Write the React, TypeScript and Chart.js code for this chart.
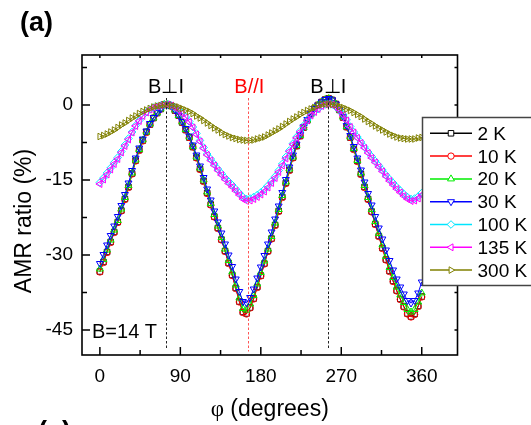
import React, { useEffect, useRef } from 'react';
import { Chart, registerables } from 'chart.js';
import { drawPoint } from 'chart.js/helpers';

Chart.register(...registerables);

// ---------- data ----------
const PHI = [
  0, 4, 8, 12, 16, 20, 24, 28, 32, 36,
  40, 44, 48, 52, 56, 60, 64, 68, 72, 76,
  80, 84, 88, 92, 96, 100, 104, 108, 112, 116,
  120, 124, 128, 132, 136, 140, 144, 148, 152, 156,
  160, 164, 168, 172, 176, 180, 184, 188, 192, 196,
  200, 204, 208, 212, 216, 220, 224, 228, 232, 236,
  240, 244, 248, 252, 256, 260, 264, 268, 272, 276,
  280, 284, 288, 292, 296, 300, 304, 308, 312, 316,
  320, 324, 328, 332, 336, 340, 344, 348, 352, 356,
  360,
];

const AMR_2K = [
  -33.3, -31.4, -29.4, -27.4, -25.4, -23.4, -21.1, -18.8, -16.4, -13.7,
  -11.1, -9.0, -7.1, -5.4, -3.9, -2.6, -1.6, -0.8, 0.1, 0.1,
  -0.2, -1.1, -2.1, -3.5, -5.0, -6.5, -8.4, -10.5, -12.8, -15.2,
  -17.6, -19.9, -22.3, -24.6, -26.9, -29.2, -31.6, -34.0, -36.6, -39.3,
  -41.4, -41.7, -40.5, -38.7, -36.4, -34.1, -31.7, -29.2, -26.7, -24.0,
  -21.2, -18.4, -15.6, -13.0, -10.5, -8.2, -6.2, -4.5, -3.1, -1.8,
  -0.7, 0.0, 0.6, 1.1, 1.3, 1.0, 0.2, -1.0, -2.5, -4.4,
  -6.5, -8.8, -11.2, -13.8, -16.4, -18.8, -21.3, -23.8, -26.2, -28.6,
  -30.9, -33.2, -35.2, -37.1, -38.8, -40.3, -41.7, -42.3, -41.8, -40.2,
  -38.3,
];

const AMR_10K = [
  -33.4, -31.5, -29.5, -27.5, -25.5, -23.5, -21.2, -18.9, -16.5, -13.8,
  -11.2, -9.1, -7.2, -5.5, -3.9, -2.6, -1.6, -0.8, 0.1, 0.1,
  -0.2, -1.1, -2.1, -3.5, -5.0, -6.5, -8.4, -10.6, -12.9, -15.3,
  -17.7, -20.0, -22.4, -24.7, -27.0, -29.3, -31.7, -34.1, -36.7, -39.4,
  -41.5, -41.8, -40.6, -38.8, -36.5, -34.2, -31.8, -29.3, -26.8, -24.1,
  -21.3, -18.5, -15.7, -13.1, -10.6, -8.2, -6.2, -4.5, -3.1, -1.8,
  -0.7, 0.0, 0.6, 1.1, 1.3, 1.0, 0.2, -1.0, -2.5, -4.4,
  -6.5, -8.9, -11.3, -13.9, -16.5, -18.9, -21.4, -23.9, -26.3, -28.7,
  -31.0, -33.3, -35.3, -37.2, -38.9, -40.4, -41.8, -42.4, -41.9, -40.3,
  -38.4,
];

const AMR_20K = [
  -32.8, -30.9, -29.0, -27.0, -25.0, -23.1, -20.8, -18.5, -16.1, -13.6,
  -11.0, -8.9, -7.0, -5.4, -3.8, -2.6, -1.6, -0.8, 0.1, 0.1,
  -0.2, -1.0, -2.1, -3.4, -4.9, -6.4, -8.3, -10.4, -12.6, -15.0,
  -17.4, -19.7, -21.9, -24.2, -26.5, -28.8, -31.1, -33.4, -36.0, -38.6,
  -40.7, -41.0, -39.8, -38.1, -35.8, -33.5, -31.2, -28.8, -26.3, -23.6,
  -20.9, -18.1, -15.4, -12.8, -10.4, -8.1, -6.1, -4.5, -3.0, -1.8,
  -0.7, 0.0, 0.6, 1.1, 1.3, 1.0, 0.2, -0.9, -2.4, -4.3,
  -6.4, -8.7, -11.1, -13.6, -16.1, -18.5, -20.9, -23.3, -25.7, -28.0,
  -30.3, -32.5, -34.5, -36.4, -38.0, -39.5, -40.9, -41.4, -40.9, -39.4,
  -37.6,
];

const AMR_30K = [
  -31.7, -29.9, -28.0, -26.1, -24.2, -22.3, -20.1, -17.9, -15.6, -13.1,
  -10.6, -8.6, -6.8, -5.2, -3.7, -2.5, -1.5, -0.8, 0.1, 0.1,
  -0.2, -1.0, -2.0, -3.3, -4.7, -6.2, -8.0, -10.0, -12.2, -14.5,
  -16.8, -19.0, -21.2, -23.4, -25.6, -27.8, -30.0, -32.3, -34.8, -37.3,
  -39.3, -39.6, -38.5, -36.8, -34.6, -32.4, -30.1, -27.8, -25.4, -22.8,
  -20.2, -17.5, -14.9, -12.4, -10.0, -7.8, -5.9, -4.3, -2.9, -1.7,
  -0.7, 0.0, 0.6, 1.1, 1.3, 1.0, 0.2, -0.9, -2.3, -4.1,
  -6.1, -8.3, -10.6, -13.0, -15.4, -17.7, -20.0, -22.3, -24.6, -26.8,
  -29.0, -31.1, -33.0, -34.8, -36.4, -37.8, -39.1, -39.6, -39.1, -37.6,
  -35.4,
];

const AMR_100K = [
  -15.5, -14.6, -13.6, -12.6, -11.5, -10.5, -9.3, -8.0, -6.7, -5.4,
  -4.1, -3.1, -2.1, -1.4, -0.9, -0.5, -0.3, -0.1, 0.0, 0.1,
  -0.1, -0.5, -1.0, -1.6, -2.4, -3.3, -4.4, -5.7, -7.1, -8.5,
  -9.8, -10.8, -11.8, -12.8, -13.7, -14.6, -15.3, -16.0, -16.8, -17.6,
  -18.4, -18.8, -18.7, -18.4, -18.0, -17.5, -16.9, -16.1, -15.2, -14.3,
  -13.1, -11.8, -10.4, -9.1, -7.7, -6.4, -5.2, -4.1, -3.0, -2.0,
  -1.3, -0.8, -0.2, 0.1, 0.3, 0.1, -0.4, -1.0, -1.9, -3.0,
  -4.3, -5.4, -6.4, -7.4, -8.4, -9.4, -10.3, -11.2, -12.1, -13.0,
  -14.0, -14.8, -15.6, -16.4, -17.1, -17.8, -18.4, -18.8, -18.7, -18.3,
  -17.6,
];

const AMR_135K = [
  -15.8, -14.9, -13.9, -12.9, -11.8, -10.8, -9.5, -8.2, -6.9, -5.5,
  -4.2, -3.2, -2.2, -1.5, -0.9, -0.5, -0.3, -0.1, 0.0, 0.1,
  -0.1, -0.5, -1.0, -1.7, -2.5, -3.4, -4.5, -5.9, -7.3, -8.7,
  -10.0, -11.1, -12.1, -13.1, -14.0, -14.9, -15.7, -16.4, -17.2, -18.0,
  -18.8, -19.2, -19.1, -18.8, -18.4, -17.9, -17.3, -16.5, -15.6, -14.6,
  -13.4, -12.1, -10.7, -9.3, -7.9, -6.6, -5.4, -4.2, -3.1, -2.1,
  -1.4, -0.8, -0.2, 0.1, 0.3, 0.1, -0.4, -1.0, -2.0, -3.1,
  -4.4, -5.5, -6.6, -7.6, -8.6, -9.6, -10.6, -11.5, -12.4, -13.3,
  -14.3, -15.2, -16.0, -16.8, -17.5, -18.2, -18.8, -19.2, -19.1, -18.7,
  -18.0,
];

const AMR_300K = [
  -6.3, -6.1, -5.8, -5.4, -5.0, -4.5, -4.0, -3.6, -3.1, -2.6,
  -2.2, -1.7, -1.3, -1.0, -0.7, -0.4, -0.2, -0.1, 0.0, 0.0,
  -0.1, -0.2, -0.4, -0.7, -1.0, -1.3, -1.7, -2.2, -2.6, -3.1,
  -3.6, -4.1, -4.6, -5.0, -5.5, -5.9, -6.2, -6.5, -6.7, -6.9,
  -7.0, -7.1, -7.1, -7.0, -6.8, -6.6, -6.4, -6.0, -5.6, -5.2,
  -4.8, -4.3, -3.8, -3.3, -2.8, -2.4, -1.9, -1.5, -1.1, -0.8,
  -0.5, -0.1, 0.1, 0.2, 0.2, 0.1, 0.0, -0.3, -0.5, -0.8,
  -1.1, -1.5, -1.9, -2.3, -2.8, -3.3, -3.7, -4.2, -4.6, -5.0,
  -5.4, -5.8, -6.1, -6.4, -6.6, -6.7, -6.8, -6.8, -6.8, -6.6,
  -6.5,
];

const SERIES_LABELS = ['2 K', '10 K', '20 K', '30 K', '100 K', '135 K', '300 K'];
const SERIES_VALUES = [AMR_2K, AMR_10K, AMR_20K, AMR_30K, AMR_100K, AMR_135K, AMR_300K];

const X_TICKS = [0, 90, 180, 270, 360];
const X_MINOR = [45, 135, 225, 315];
const Y_TICKS = [-45, -30, -15, 0];
const Y_MINOR = [-37.5, -22.5, -7.5, 7.5];

// Reference-line positions (degrees)
const PERP_1 = 74;
const PARALLEL = 165.5;
const PERP_2 = 255.5;

// ---------- styles ----------
const COLORS = ['#000000', '#ff0000', '#00ee00', '#0000ff', '#00e5ff', '#ff00ff', '#808000'];
const POINT_STYLES = ['rect', 'circle', 'triangle', 'triangle', 'rectRot', 'triangle', 'triangle'];
const POINT_ROT = [0, 0, 0, 180, 0, 270, 90];
const POINT_RAD = [3.9, 3.2, 4.0, 4.0, 3.8, 4.0, 3.8];

const SANS = '"Liberation Sans", Arial, sans-serif';
const SERIF = '"Liberation Serif", "DejaVu Serif", serif';

const decorPlugin = {
  id: 'decor',
  afterDatasetsDraw(chart: any) {
    const ctx: CanvasRenderingContext2D = chart.ctx;
    const xs = chart.scales.x;
    const ys = chart.scales.y;
    const { left, right, top, bottom } = chart.chartArea;
    ctx.save();

    const seg = (x1: number, y1: number, x2: number, y2: number) => {
      ctx.beginPath();
      ctx.moveTo(x1, y1);
      ctx.lineTo(x2, y2);
      ctx.stroke();
    };

    // guide lines
    ctx.lineWidth = 1;
    ctx.setLineDash([2.5, 2]);
    const guides = [
      { phi: PERP_1, y1: 1.4, y2: -48.8, color: '#222222' },
      { phi: PARALLEL, y1: 1.4, y2: -49.3, color: '#ff5555' },
      { phi: PERP_2, y1: 1.4, y2: -48.6, color: '#222222' },
    ];
    guides.forEach((g) => {
      ctx.strokeStyle = g.color;
      const x = Math.round(xs.getPixelForValue(g.phi)) + 0.5;
      seg(x, ys.getPixelForValue(g.y1), x, ys.getPixelForValue(g.y2));
    });
    ctx.setLineDash([]);

    // frame
    ctx.strokeStyle = '#000';
    ctx.lineWidth = 1.6;
    ctx.strokeRect(left, top, right - left, bottom - top);

    // ticks (inward)
    ctx.lineWidth = 1.5;
    X_TICKS.forEach((v) => {
      const x = xs.getPixelForValue(v);
      seg(x, bottom, x, bottom - 8);
      seg(x, top, x, top + 3);
    });
    X_MINOR.forEach((v) => {
      const x = xs.getPixelForValue(v);
      seg(x, bottom, x, bottom - 5);
      seg(x, top, x, top + 3);
    });
    Y_TICKS.forEach((v) => {
      const y = ys.getPixelForValue(v);
      seg(left, y, left + 8, y);
      seg(right, y, right - 3, y);
    });
    Y_MINOR.forEach((v) => {
      const y = ys.getPixelForValue(v);
      seg(left, y, left + 5, y);
      seg(right, y, right - 3, y);
    });

    // annotations
    ctx.font = `20px ${SANS}`;
    ctx.textAlign = 'center';
    ctx.textBaseline = 'alphabetic';
    ctx.fillStyle = '#000';
    ctx.fillText('B\u22a5I', xs.getPixelForValue(PERP_1), 92.5);
    ctx.fillText('B\u22a5I', xs.getPixelForValue(PERP_2), 92.5);
    ctx.fillStyle = '#ff0000';
    ctx.fillText('B//I', xs.getPixelForValue(PARALLEL) + 1.5, 92.5);
    ctx.fillStyle = '#000';
    ctx.textAlign = 'left';
    ctx.fillText('B=14 T', 92, 337.5);

    // panel labels
    ctx.font = `bold 27px ${SANS}`;
    ctx.fillText('(a)', 20, 30.5);
    ctx.fillText('(c)', 38, 440);

    // axis titles
    ctx.font = `23px ${SANS}`;
    const t2 = ' (degrees)';
    const w2 = ctx.measureText(t2).width;
    ctx.font = `23px ${SERIF}`;
    const w1 = ctx.measureText('\u03c6').width;
    const cx = (left + right) / 2;
    const sx = cx - (w1 + w2) / 2;
    ctx.textAlign = 'left';
    ctx.fillText('\u03c6', sx, 415.5);
    ctx.font = `23px ${SANS}`;
    ctx.fillText(t2, sx + w1, 415.5);

    ctx.save();
    ctx.translate(31, 221);
    ctx.rotate(-Math.PI / 2);
    ctx.textAlign = 'center';
    ctx.fillText('AMR ratio (%)', 0, 0);
    ctx.restore();

    // legend
    const bx = 422.5;
    const by = 117.5;
    const bh = 168;
    ctx.fillStyle = '#fff';
    ctx.fillRect(bx, by, 200, bh);
    ctx.strokeStyle = '#444';
    ctx.lineWidth = 1.5;
    ctx.strokeRect(bx, by, 200, bh);
    chart.data.datasets.forEach((ds: any, i: number) => {
      const yy = 133.3 + i * 22.8;
      ctx.strokeStyle = ds.borderColor;
      ctx.lineWidth = 1.5;
      seg(430, yy, 472, yy);
      ctx.fillStyle = '#fff';
      ctx.lineWidth = 1;
      drawPoint(ctx, { pointStyle: ds.pointStyle, rotation: ds.pointRotation, radius: ds.pointRadius, borderWidth: 1 } as any, 451, yy);
      ctx.fillStyle = '#000';
      ctx.font = `19px ${SANS}`;
      ctx.textAlign = 'left';
      ctx.textBaseline = 'alphabetic';
      ctx.fillText(ds.label, 477.5, yy + 6.5);
    });

    ctx.restore();
  },
};

export default function App() {
  const ref = useRef<HTMLCanvasElement | null>(null);

  useEffect(() => {
    if (!ref.current) return;
    const datasets = SERIES_LABELS.map((label, i) => ({
      label,
      data: PHI.map((p, k) => ({ x: p, y: SERIES_VALUES[i][k] })),
      borderColor: COLORS[i],
      backgroundColor: 'rgba(0,0,0,0)',
      borderWidth: 1,
      pointStyle: POINT_STYLES[i],
      pointRotation: POINT_ROT[i],
      pointRadius: POINT_RAD[i],
      pointBorderWidth: 1,
      pointBorderColor: COLORS[i],
      pointBackgroundColor: 'rgba(0,0,0,0)',
      tension: 0,
      fill: false,
      order: SERIES_LABELS.length - i,
    }));

    const chart = new Chart(ref.current, {
      type: 'line',
      data: { datasets },
      options: {
        animation: false,
        responsive: false,
        maintainAspectRatio: false,
        layout: { padding: { left: 0, top: 55, right: 73.5, bottom: 0 } },
        plugins: { legend: { display: false }, tooltip: { enabled: false } },
        scales: {
          x: {
            type: 'linear',
            min: -20,
            max: 400,
            afterBuildTicks: (s: any) => {
              s.ticks = X_TICKS.map((v) => ({ value: v }));
            },
            afterFit: (s: any) => {
              s.height = 70;
            },
            grid: { display: false, drawTicks: false },
            border: { display: false },
            ticks: {
              color: '#000',
              font: { family: SANS, size: 19 },
              padding: 10,
              maxRotation: 0,
              autoSkip: false,
              callback: (v: any) => String(v),
            },
          },
          y: {
            type: 'linear',
            min: -50,
            max: 10,
            afterBuildTicks: (s: any) => {
              s.ticks = Y_TICKS.map((v) => ({ value: v }));
            },
            afterFit: (s: any) => {
              s.width = 82;
            },
            grid: { display: false, drawTicks: false },
            border: { display: false },
            ticks: {
              color: '#000',
              font: { family: SANS, size: 19 },
              padding: 9,
              autoSkip: false,
              callback: (v: any) => String(v),
            },
          },
        },
      },
      plugins: [decorPlugin],
    });
    return () => chart.destroy();
  }, []);

  return (
    <div style={{ position: 'fixed', left: 0, top: 0, width: 531, height: 425, background: '#fff' }}>
      <canvas ref={ref} width={531} height={425} style={{ display: 'block' }} />
    </div>
  );
}
